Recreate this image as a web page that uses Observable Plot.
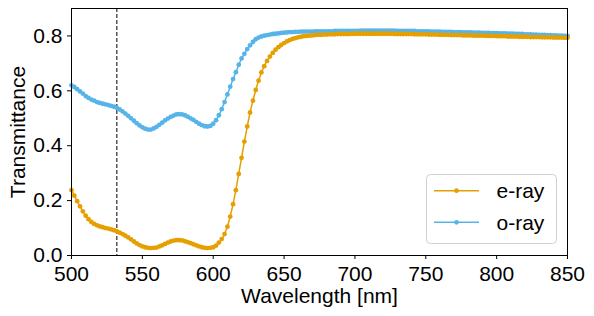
<!DOCTYPE html>
<html>
<head>
<meta charset="utf-8">
<script src="https://cdn.jsdelivr.net/npm/d3@7"></script>
<script src="https://cdn.jsdelivr.net/npm/@observablehq/plot@0.6"></script>
<style>
  html, body { margin: 0; padding: 0; background: #fff; }
  #wrap { position: relative; width: 594px; height: 316px; font-family: "Liberation Sans", Arial, sans-serif; }
  #legend { position: absolute; left: 426px; top: 174px; }
</style>
</head>
<body>
<div id="wrap"></div>
<script>
const wavelength = [
500,502,504,506,508,510,512,514,516,518,
520,522,524,526,528,530,532,534,536,538,
540,542,544,546,548,550,552,554,556,558,
560,562,564,566,568,570,572,574,576,578,
580,582,584,586,588,590,592,594,596,598,
600,602,604,606,608,610,612,614,616,618,
620,622,624,626,628,630,632,634,636,638,
640,642,644,646,648,650,652,654,656,658,
660,662,664,666,668,670,672,674,676,678,
680,682,684,686,688,690,692,694,696,698,
700,702,704,706,708,710,712,714,716,718,
720,722,724,726,728,730,732,734,736,738,
740,742,744,746,748,750,752,754,756,758,
760,762,764,766,768,770,772,774,776,778,
780,782,784,786,788,790,792,794,796,798,
800,802,804,806,808,810,812,814,816,818,
820,822,824,826,828,830,832,834,836,838,
840,842,844,846,848,850];

const eRay = [
0.238,0.218,0.198,0.179,0.161,0.145,0.132,0.122,0.115,0.110,
0.106,0.103,0.100,0.098,0.095,0.092,0.088,0.083,0.078,0.072,
0.066,0.059,0.051,0.044,0.038,0.033,0.030,0.028,0.027,0.028,
0.029,0.033,0.037,0.042,0.047,0.051,0.054,0.056,0.056,0.055,
0.052,0.049,0.045,0.041,0.037,0.033,0.030,0.028,0.027,0.028,
0.030,0.036,0.047,0.060,0.078,0.105,0.142,0.187,0.238,0.297,
0.356,0.415,0.470,0.521,0.564,0.603,0.637,0.667,0.690,0.709,
0.725,0.738,0.750,0.759,0.767,0.774,0.780,0.785,0.789,0.792,
0.795,0.797,0.799,0.800,0.801,0.802,0.803,0.804,0.804,0.805,
0.805,0.806,0.806,0.806,0.807,0.807,0.807,0.807,0.807,0.808,
0.808,0.808,0.808,0.808,0.808,0.808,0.808,0.808,0.808,0.808,
0.808,0.808,0.808,0.808,0.807,0.807,0.807,0.807,0.807,0.807,
0.807,0.806,0.806,0.806,0.806,0.806,0.805,0.805,0.805,0.805,
0.804,0.804,0.804,0.804,0.803,0.803,0.803,0.803,0.802,0.802,
0.802,0.802,0.801,0.801,0.801,0.801,0.800,0.800,0.800,0.800,
0.799,0.799,0.799,0.799,0.798,0.798,0.798,0.798,0.797,0.797,
0.797,0.797,0.796,0.796,0.796,0.796,0.795,0.795,0.795,0.795,
0.794,0.794,0.794,0.794,0.793,0.793];

const oRay = [
0.620,0.614,0.606,0.598,0.590,0.581,0.574,0.568,0.564,0.559,
0.556,0.553,0.551,0.548,0.545,0.542,0.538,0.532,0.525,0.517,
0.509,0.500,0.491,0.482,0.474,0.467,0.462,0.459,0.459,0.463,
0.469,0.476,0.484,0.492,0.499,0.505,0.510,0.514,0.515,0.514,
0.511,0.506,0.500,0.494,0.487,0.480,0.475,0.471,0.470,0.472,
0.480,0.493,0.511,0.533,0.559,0.587,0.615,0.643,0.668,0.695,
0.718,0.735,0.752,0.766,0.778,0.788,0.794,0.798,0.801,0.803,
0.805,0.807,0.808,0.809,0.811,0.812,0.813,0.814,0.814,0.815,
0.815,0.816,0.816,0.816,0.816,0.816,0.817,0.817,0.817,0.817,
0.817,0.817,0.817,0.818,0.818,0.818,0.818,0.818,0.818,0.818,
0.818,0.818,0.819,0.819,0.819,0.819,0.819,0.819,0.819,0.819,
0.819,0.819,0.819,0.819,0.819,0.818,0.818,0.818,0.818,0.818,
0.818,0.818,0.817,0.817,0.817,0.817,0.817,0.816,0.816,0.816,
0.816,0.815,0.815,0.815,0.815,0.814,0.814,0.814,0.813,0.813,
0.813,0.813,0.812,0.812,0.812,0.811,0.811,0.811,0.810,0.810,
0.810,0.809,0.809,0.809,0.808,0.808,0.808,0.807,0.807,0.807,
0.806,0.806,0.806,0.805,0.805,0.804,0.804,0.804,0.803,0.803,
0.802,0.802,0.801,0.801,0.800,0.800];

const seriesNames = ["e-ray", "o-ray"];
const seriesColors = ["#E69F00", "#56B4E9"];
const xTicks = [500, 550, 600, 650, 700, 750, 800, 850];
const yTicks = [0.0, 0.2, 0.4, 0.6, 0.8];
const laserLine = [532];
const xLabel = "Wavelength [nm]";
const yLabel = "Transmittance";

const eData = wavelength.map((w, i) => ({w, t: eRay[i]}));
const oData = wavelength.map((w, i) => ({w, t: oRay[i]}));

const fontFamily = '"Liberation Sans", Arial, sans-serif';

const chart = Plot.plot({
  width: 594,
  height: 316,
  marginLeft: 71,
  marginRight: 27,
  marginTop: 8,
  marginBottom: 61,
  style: {fontFamily, fontSize: "21px", background: "white", color: "black"},
  x: {domain: [500, 850]},
  y: {domain: [0, 0.9]},
  marks: [
    Plot.ruleX(laserLine, {stroke: "black", strokeWidth: 1, strokeDasharray: "4,2"}),
    Plot.line(oData, {x: "w", y: "t", stroke: seriesColors[1], strokeWidth: 1.5}),
    Plot.dot(oData, {x: "w", y: "t", r: 2.4, fill: seriesColors[1], stroke: "none"}),
    Plot.line(eData, {x: "w", y: "t", stroke: seriesColors[0], strokeWidth: 1.5}),
    Plot.dot(eData, {x: "w", y: "t", r: 2.4, fill: seriesColors[0], stroke: "none"}),
    Plot.frame({stroke: "black", strokeWidth: 1}),
    Plot.axisX({ticks: xTicks, tickSize: 4, tickPadding: 7, tickFormat: d => String(d), label: null, fontSize: 21}),
    Plot.axisY({ticks: yTicks, tickSize: 4, tickPadding: 5, tickFormat: d3.format(".1f"), label: null, fontSize: 21}),
    Plot.text([xLabel], {text: d => d, frameAnchor: "bottom", dy: 33, lineAnchor: "top", textAnchor: "middle", fontSize: 21}),
    Plot.text([yLabel], {text: d => d, frameAnchor: "left", dx: -47, rotate: -90, lineAnchor: "bottom", textAnchor: "middle", fontSize: 21})
  ]
});

const wrap = document.getElementById("wrap");
wrap.appendChild(chart);

// Legend (HTML overlay with inline SVG)
const leg = d3.select(wrap).append("div").attr("id", "legend");
const lsvg = leg.append("svg").attr("width", 132).attr("height", 71)
  .style("font-family", fontFamily);
lsvg.append("rect").attr("x", 0.5).attr("y", 0.5).attr("width", 130).attr("height", 69)
  .attr("rx", 4).attr("fill", "rgba(255,255,255,0.8)").attr("stroke", "#d0d0d0");
seriesNames.forEach((name, i) => {
  const cy = 16.7 + i * 31.6;
  lsvg.append("line").attr("x1", 8).attr("x2", 53).attr("y1", cy).attr("y2", cy)
    .attr("stroke", seriesColors[i]).attr("stroke-width", 1.5);
  lsvg.append("circle").attr("cx", 30.5).attr("cy", cy).attr("r", 2.4).attr("fill", seriesColors[i]);
  lsvg.append("text").attr("x", 70.5).attr("y", cy).attr("dy", "0.35em")
    .attr("font-size", 21).attr("fill", "black").text(name);
});
</script>
</body>
</html>
